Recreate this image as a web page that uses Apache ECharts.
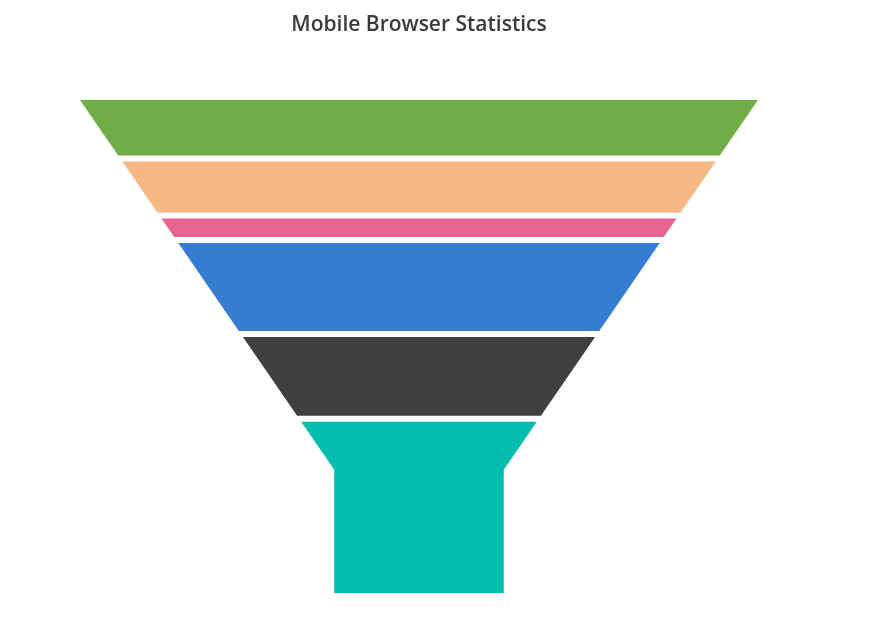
<!DOCTYPE html>
<html>
<head>
<meta charset="utf-8">
<script src="https://cdn.jsdelivr.net/npm/echarts@6/dist/echarts.min.js"></script>
<style>html,body{margin:0;padding:0;background:#fff}#c{width:886px;height:638px}</style>
</head>
<body>
<div id="c"></div>
<script>
// Data (first point drawn at the bottom of the funnel)
const categories = ['Chrome', 'UC Browser', 'iPhone', 'Others', 'Opera', 'Android'];
const values = [37, 17, 19, 4, 11, 12];
const colors = ['#00bdae', '#404041', '#357cd2', '#e56590', '#f8b883', '#70ad47'];

const total = values.reduce((a, b) => a + b, 0);
const gapPx = 6;
const neckWidthRatio = 0.25;   // neck width relative to top width
const neckHeightRatio = 0.25;  // neck height relative to funnel height

const chart = echarts.init(document.getElementById('c'));

function renderItem(params, api) {
  const i = params.dataIndex;
  const n = values.length;
  const yTop = api.coord([0, 0])[1];
  const yBot = api.coord([0, total])[1];
  const xC = api.coord([0, 0])[0];
  const topHalf = api.coord([1, 0])[0] - xC;
  const neckHalf = topHalf * neckWidthRatio;
  const H = yBot - yTop;
  const neckY = yBot - H * neckHeightRatio;
  const avail = H - gapPx * (n - 1);
  let before = 0;
  for (let k = 0; k < i; k++) before += values[k];
  const bPx = yBot - (before / total) * avail - i * gapPx;
  const tPx = bPx - (api.value(1) / total) * avail;
  const half = (y) => y >= neckY ? neckHalf : topHalf - (topHalf - neckHalf) * (y - yTop) / (neckY - yTop);
  const pts = [];
  pts.push([xC - half(tPx), tPx], [xC + half(tPx), tPx]);
  if (tPx < neckY && bPx > neckY) pts.push([xC + neckHalf, neckY]);
  pts.push([xC + half(bPx), bPx], [xC - half(bPx), bPx]);
  if (tPx < neckY && bPx > neckY) pts.push([xC - neckHalf, neckY]);
  return {
    type: 'polygon',
    shape: { points: pts },
    style: { fill: colors[i] }
  };
}

chart.setOption({
  animation: false,
  title: {
    text: 'Mobile Browser Statistics',
    left: 414,
    textAlign: 'center',
    top: 10,
    textStyle: { fontFamily: 'Open Sans', fontSize: 21, fontWeight: 600, color: '#3a3a3a' }
  },
  grid: { left: 80, right: 128, top: 100, bottom: 45 },
  xAxis: { type: 'value', min: -1, max: 1, show: false },
  yAxis: { type: 'value', min: 0, max: total, inverse: true, show: false },
  series: [{
    type: 'custom',
    renderItem: renderItem,
    data: values.map((v, i) => ({ name: categories[i], value: [0, v] }))
  }]
});
</script>
</body>
</html>
